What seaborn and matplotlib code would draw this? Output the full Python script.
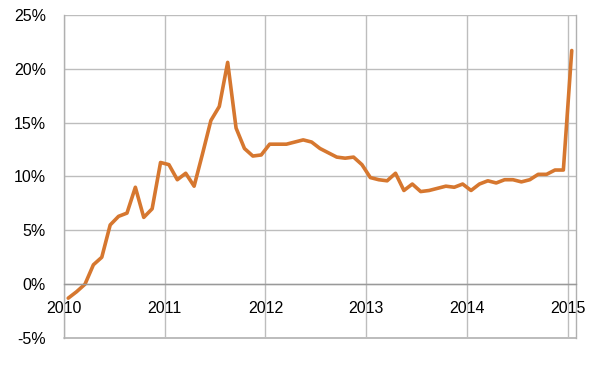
import pandas as pd
import matplotlib.pyplot as plt
import seaborn as sns
from matplotlib.ticker import FuncFormatter

# monthly growth, Jan 2010 .. Jan 2015 (percent)
months = pd.date_range("2010-01-01", periods=61, freq="MS")
growth = [
    -1.3, -0.7, 0.0, 1.8, 2.5, 5.5, 6.3, 6.6, 9.0, 6.2, 7.0, 11.3,   # 2010
    11.1, 9.7, 10.3, 9.1, 12.1, 15.2, 16.5, 20.6, 14.5, 12.6, 11.9, 12.0,  # 2011
    13.0, 13.0, 13.0, 13.2, 13.4, 13.2, 12.6, 12.2, 11.8, 11.7, 11.8, 11.1,  # 2012
    9.9, 9.7, 9.6, 10.3, 8.7, 9.3, 8.6, 8.7, 8.9, 9.1, 9.0, 9.3,  # 2013
    8.7, 9.3, 9.6, 9.4, 9.7, 9.7, 9.5, 9.7, 10.2, 10.2, 10.6, 10.6,  # 2014
    21.7,  # Jan 2015
]
year_ticks = [2010, 2011, 2012, 2013, 2014, 2015]
pct_ticks = [-5, 0, 5, 10, 15, 20, 25]

df = pd.DataFrame({"month": months, "growth": growth})
# decimal year, points sit mid-month
df["t"] = df["month"].dt.year + (df["month"].dt.month - 0.5) / 12

sns.set_theme(style="white")
plt.rcParams["font.family"] = ["Liberation Sans", "DejaVu Sans"]

fig = plt.figure(figsize=(6.04, 3.70), dpi=100)
ax = fig.add_axes([0.106, 0.0865, 0.848, 0.873])

sns.lineplot(data=df, x="t", y="growth", ax=ax, color="#d6772f", linewidth=2.6)

ax.set_xlim(2010, 2015.086)
ax.set_ylim(-5, 25)
ax.set_xticks(year_ticks)
ax.set_yticks(pct_ticks)
ax.xaxis.set_major_formatter(FuncFormatter(lambda v, p: f"{v:.0f}"))
ax.yaxis.set_major_formatter(FuncFormatter(lambda v, p: f"{v:.0f}%"))
ax.set_xlabel("")
ax.set_ylabel("")

ax.grid(True, color="#bdbdbd", linewidth=1)
ax.set_axisbelow(True)

for s in ["left", "right", "top", "bottom"]:
    ax.spines[s].set_color("#b0b0b0")
    ax.spines[s].set_linewidth(1)
ax.spines["top"].set_visible(False)
ax.spines["bottom"].set_position(("data", 0))
ax.spines["bottom"].set_color("#999999")
ax.axhline(-5, color="#b0b0b0", linewidth=1.2, zorder=0, clip_on=False)

ax.tick_params(axis="y", length=5, color="#b0b0b0", pad=8, labelsize=11.5, labelcolor="black")
ax.tick_params(axis="x", length=3, color="#999999", pad=9, labelsize=11.5, labelcolor="black")

fig.savefig("out.png", dpi=100)
